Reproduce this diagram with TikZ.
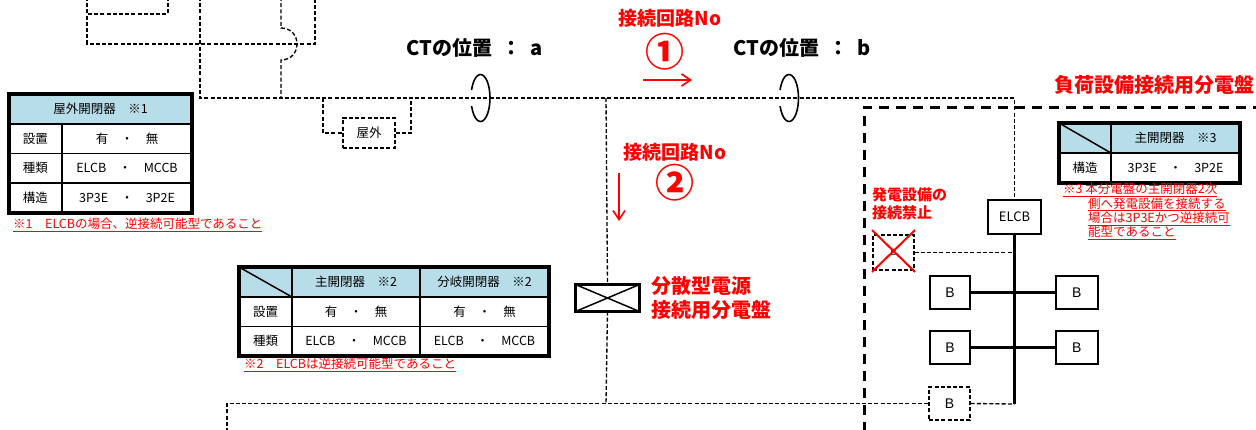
\documentclass[tikz,border=0pt]{standalone}
\usepackage{fontspec}
\setmainfont{Noto Sans CJK JP}
\newfontfamily\latinsans{Liberation Sans}
\usetikzlibrary{arrows.meta,positioning,fit}
\definecolor{hdrblue}{HTML}{B7DDE8}

\tikzset{
  wire/.style={dash pattern=on 4pt off 2.2pt, line width=1.35pt},
  bus/.style={line width=2.6pt},
  panel/.style={dash pattern=on 10pt off 7pt, line width=3pt},
  cell/.style={draw, line width=1.3pt, anchor=north west, inner sep=0pt, outer sep=0pt,
    minimum height=29.5pt, font=\fontsize{12.5}{14}\selectfont},
  hcell/.style={cell, fill=hdrblue, minimum height=30pt},
  outer/.style={draw, line width=4pt, inner sep=0pt, outer sep=0pt},
  brk/.style={draw, line width=1.8pt, fill=white, minimum width=40pt, minimum height=33pt,
    inner sep=0pt, font=\latinsans\fontsize{14}{14}\selectfont},
  note/.style={text=red, font=\fontsize{12.5}{14.3}\selectfont, anchor=west, inner sep=0pt},
  redlbl/.style={text=red, inner sep=0pt, font=\bfseries\fontsize{19}{22}\selectfont},
  ctlbl/.style={anchor=west, inner sep=0pt, font=\bfseries\fontsize{20}{20}\selectfont},
  circno/.style={text=red, inner sep=0pt, font=\bfseries\fontsize{39}{39}\selectfont},
  redarrow/.style={red, line width=1.6pt, -{Straight Barb[length=9pt,width=12pt]}},
}

\begin{document}
\begin{tikzpicture}[x=1pt,y=-1pt]
\useasboundingbox (0,0) rectangle (1256,429);

% feeders at top left
\draw[wire] (168,-3) |- (87,14);
\draw[wire] (87,-3) |- (315,44) -- (315,-3);
\draw[wire] (281,-3) -- (281,28) .. controls (302.3,28) and (302.3,60) .. (281,60) -- (281,98);

% main line
\node[draw, line width=1.4pt, fill=white, minimum width=53pt, minimum height=34pt, inner sep=0pt,
  font=\fontsize{13}{13}\selectfont] (elcb) at (1014.5,217) {ELCB};
\draw[wire] (200,-3) -- (200,98) -| (elcb.north);

% outdoor switch
\node[draw, wire, fill=white, minimum width=52pt, minimum height=30pt, inner sep=0pt,
  font=\fontsize{12.5}{12.5}\selectfont] (ext) at (369,133) {屋外};
\draw[wire] (323,98) |- (ext.west);
\draw[wire] (ext.east) -| (411,98);

% CT positions
\coordinate (ct_a) at (480.5,98);
\coordinate (ct_b) at (789,98);
\foreach \c in {ct_a,ct_b}
  \draw[line width=1.6pt] (\c) ++(160:9.5pt and 23.5pt) arc[start angle=160, end angle=-160, x radius=9.5pt, y radius=23.5pt];
\node[ctlbl] (lbl_a) at (406,48) {CTの位置\hspace{9pt}：\hspace{9pt}a};
\node[ctlbl] (lbl_b) at (733,48) {CTの位置\hspace{9pt}：\hspace{9pt}b};

% circuit No 1
\node[redlbl] (no1) at (670,18) {接続回路No};
\node[circno] (c1) at (665,52) {①};
\coordinate (a1s) at (643,80);
\coordinate (a1e) at (692,80);
\draw[redarrow] (a1s) -- (a1e);

% branch to distributed generation panel
\coordinate (tap) at (606,98);
\coordinate (tap_b) at (606,404);
\node[draw, line width=3.5pt, fill=white, minimum width=64pt, minimum height=27pt, inner sep=0pt,
  outer sep=0pt] (dgp) at (607.5,298) {};
\draw[line width=1.5pt] (dgp.north west) -- (dgp.south east) (dgp.north east) -- (dgp.south west);
\draw[wire] (tap) -- (dgp.north);
\draw[wire] (dgp.south) -- (tap_b);
\node[redlbl, align=left, anchor=west, font=\bfseries\fontsize{20}{24}\selectfont] (dgp_lbl)
  [right=12pt of dgp] {分散型電源\\接続用分電盤};

% circuit No 2
\node[redlbl] (no2) at (675,152) {接続回路No};
\node[circno] (c2) at (675,183) {②};
\coordinate (a2s) at (619,173);
\coordinate (a2e) at (619,221);
\draw[redarrow] (a2s) -- (a2e);

% load panel
\draw[panel] (864,432) |- (1258,107) -- (1258,432);
\node[redlbl, anchor=west, font=\bfseries\fontsize{20}{20}\selectfont] (load_lbl) at (1054,85) {負荷設備接続用分電盤};

\node[redlbl, align=left, anchor=west, font=\bfseries\fontsize{15}{18}\selectfont] (ban) at (872,204)
  {発電設備の\\接続禁止};
\node[draw, wire, minimum width=41pt, minimum height=35pt, inner sep=0pt,
  font=\latinsans\fontsize{9}{9}\selectfont] (xb) at (893.5,252.5) {B};
\draw[wire] (xb.east) -- (xb.east -| elcb.south);
\draw[red, line width=2pt] (872,230) -- (915,272) (915,230) -- (872,272);

\coordinate (bus_end) at (1014.5,404);
\draw[bus] (elcb.south) -- (bus_end);
\node[brk] (b_l1) at (950,292.5) {B};
\node[brk, minimum width=42pt] (b_r1) [right=84pt of b_l1] {B};
\node[brk] (b_l2) [below=20pt of b_l1] {B};
\node[brk, minimum width=42pt] (b_r2) [right=84pt of b_l2] {B};
\draw[bus] (b_l1) -- (b_r1);
\draw[bus] (b_l2) -- (b_r2);
\node[brk, wire, minimum width=41pt] (b_d) at (949.5,403.5) {B};
\draw[wire] (b_d.east) -- (bus_end);
\draw[wire] (227,432) |- (b_d.west);

% table 1 (outdoor switch)
\node[hcell, minimum width=183pt] (t1_h) at (9,94) {屋外開閉器　※1};
\foreach \k/\v [count=\i] in {設置/有　・　無, 種類/ELCB　・　MCCB, 構造/3P3E　・　3P2E} {
  \node[cell, minimum width=53pt] (t1_a\i) at (9,{124+29.5*(\i-1)}) {\k};
  \node[cell, minimum width=130pt] (t1_b\i) at (62,{124+29.5*(\i-1)}) {\v};
}
\node[outer, fit=(t1_h)(t1_b3)] (t1) {};
\node[note] (n1) at (13,225) {\underline{※1　ELCBの場合、逆接続可能型であること}};

% table 2 (main / branch switch)
\node[hcell, minimum width=53pt] (t2_d) at (239,267) {};
\node[hcell, minimum width=128pt] (t2_h1) at (292,267) {主開閉器　※2};
\node[hcell, minimum width=129pt] (t2_h2) at (420,267) {分岐開閉器　※2};
\draw[line width=1.5pt] (t2_d.north west) -- (t2_d.south east);
\foreach \k/\v [count=\i] in {設置/有　・　無, 種類/ELCB　・　MCCB} {
  \node[cell, minimum width=53pt] (t2_a\i) at (239,{297+29.5*(\i-1)}) {\k};
  \node[cell, minimum width=128pt] (t2_b\i) at (292,{297+29.5*(\i-1)}) {\v};
  \node[cell, minimum width=129pt] (t2_c\i) at (420,{297+29.5*(\i-1)}) {\v};
}
\node[outer, fit=(t2_d)(t2_c2)] (t2) {};
\node[note] (n2) at (244,365) {\underline{※2　ELCBは逆接続可能型であること}};

% table 3 (load panel main switch)
\node[hcell, minimum width=52pt] (t3_d) at (1059,123) {};
\node[hcell, minimum width=129pt] (t3_h) at (1111,123) {主開閉器　※3};
\draw[line width=1.5pt] (t3_d.north west) -- (t3_d.south east);
\node[cell, minimum width=52pt] (t3_a) at (1059,153) {構造};
\node[cell, minimum width=129pt] (t3_b) at (1111,153) {3P3E　・　3P2E};
\node[outer, fit=(t3_d)(t3_b)] (t3) {};
\node[note, align=left] (n3) at (1063,211.5) {\underline{※3 本分電盤の主開閉器2次}\\
  \hspace*{25pt}\underline{側へ発電設備を接続する}\\
  \hspace*{25pt}\underline{場合は3P3Eかつ逆接続可}\\
  \hspace*{25pt}\underline{能型であること}};
\end{tikzpicture}
\end{document}
